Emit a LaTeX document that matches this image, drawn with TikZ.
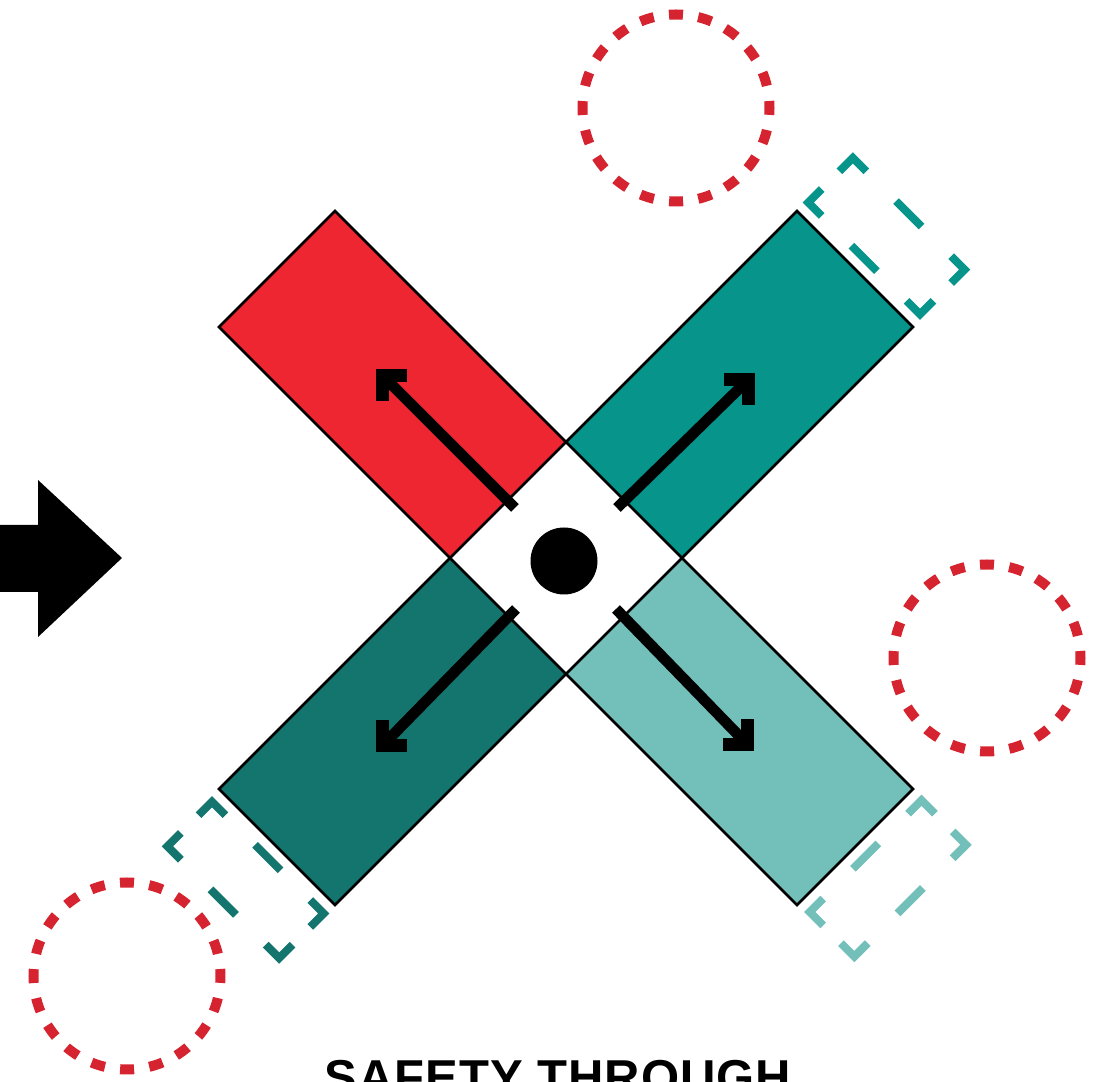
\documentclass[tikz,border=0pt]{standalone}
\usepackage{fontspec}
\setmainfont{Liberation Sans}
\usepackage{tikz}
\usetikzlibrary{calc}

\definecolor{armred}{HTML}{EE2631}
\definecolor{armteal}{HTML}{06948B}
\definecolor{armdark}{HTML}{14756F}
\definecolor{armlight}{HTML}{73BFBA}
\definecolor{ringred}{HTML}{D52330}

\begin{document}
\begin{tikzpicture}[
    x=0.5pt, y=0.5pt,
    arm/.style={draw=black, line width=1.3pt, line join=miter},
    push/.style={line width=5.4pt},
    head/.style={line width=6.4pt, line join=miter, line cap=butt},
    guard/.style={line width=4pt, line join=miter,
                  dash pattern=on 19pt off 21pt on 18pt off 21pt on 19pt off 12.5pt,
                  dash phase=104.25pt},
    ring/.style={draw=ringred, line width=5pt,
                 dash pattern=on 7pt off 7.69pt, dash phase=3.5pt},
  ]
  \useasboundingbox (0,0) rectangle (1110,1082);

  % Centre square
  \coordinate (ctop) at (566,640);
  \coordinate (cright) at (682,524);
  \coordinate (cbottom) at (566,408);
  \coordinate (cleft) at (450,524);

  % Four arms
  \draw[arm, fill=armred] (ctop) -- (cleft) -- ($(cleft)+(-231,231)$)
    -- ($(ctop)+(-231,231)$) -- cycle;
  \draw[arm, fill=armteal] (ctop) -- (cright) -- ($(cright)+(231,231)$)
    -- ($(ctop)+(231,231)$) -- cycle;
  \draw[arm, fill=armdark] (cleft) -- (cbottom) -- ($(cbottom)+(-231,-231)$)
    -- ($(cleft)+(-231,-231)$) -- cycle;
  \draw[arm, fill=armlight] (cright) -- (cbottom) -- ($(cbottom)+(231,-231)$)
    -- ($(cright)+(231,-231)$) -- cycle;

  % Hub
  \fill[black] (564,521) circle[radius=16.75pt];

  % Arrows out of the hub (tip = outer corner of the head)
  \coordinate (redbase) at (515,574);
  \coordinate (redtip) at (376,713);
  \coordinate (tealbase) at (617,574);
  \coordinate (tealtip) at (755,709);
  \coordinate (darkbase) at (516,473);
  \coordinate (darktip) at (376,330);
  \coordinate (lightbase) at (616,473);
  \coordinate (lighttip) at (754,331);

  \draw[push] (redbase) -- ($(redtip)+(6.4,-6.4)$);
  \draw[head] ($(redtip)+(31,-6.4)$) -- ($(redtip)+(6.4,-6.4)$) -- ($(redtip)+(6.4,-32)$);
  \draw[push] (tealbase) -- ($(tealtip)+(-6.4,-6.4)$);
  \draw[head] ($(tealtip)+(-31,-6.4)$) -- ($(tealtip)+(-6.4,-6.4)$) -- ($(tealtip)+(-6.4,-32)$);
  \draw[push] (darkbase) -- ($(darktip)+(6.4,6.4)$);
  \draw[head] ($(darktip)+(31,6.4)$) -- ($(darktip)+(6.4,6.4)$) -- ($(darktip)+(6.4,32)$);
  \draw[push] (lightbase) -- ($(lighttip)+(-6.4,6.4)$);
  \draw[head] ($(lighttip)+(-31,6.4)$) -- ($(lighttip)+(-6.4,6.4)$) -- ($(lighttip)+(-6.4,32)$);

  % Dotted rings
  \draw[ring] (676,974) circle[radius=46.75pt];
  \draw[ring] (987,424) circle[radius=46.75pt];
  \draw[ring] (127,106) circle[radius=46.75pt];

  % Dashed guard boxes beside the arm ends
  \begin{scope}[shift={($(ctop)+(231,231)$)}, rotate=-45]
    \draw[guard, draw=armteal] (2,45.5) -- (2,77) -- (160,77) -- (160,14)
      -- (2,14) -- cycle;
  \end{scope}
  \begin{scope}[shift={($(cbottom)+(-231,-231)$)}, rotate=135]
    \draw[guard, draw=armdark] (2,45.5) -- (2,77) -- (160,77) -- (160,14)
      -- (2,14) -- cycle;
  \end{scope}
  \begin{scope}[shift={($(cright)+(231,-231)$)}, rotate=-135]
    \draw[guard, draw=armlight] (2,45.5) -- (2,77) -- (160,77) -- (160,14)
      -- (2,14) -- cycle;
  \end{scope}

  % Entry arrow on the left
  \fill[black] (-4,490) -- (38,490) -- (38,445) -- (122,524) -- (38,602)
    -- (38,557) -- (-4,557) -- cycle;

  % Caption (cut by the lower edge)
  \node[font=\bfseries\fontsize{24.5pt}{24.5pt}\selectfont\addfontfeature{LetterSpace=2},
        anchor=base, inner sep=0pt]
    (caption) at (558,-13) {SAFETY THROUGH};

\end{tikzpicture}
\end{document}
